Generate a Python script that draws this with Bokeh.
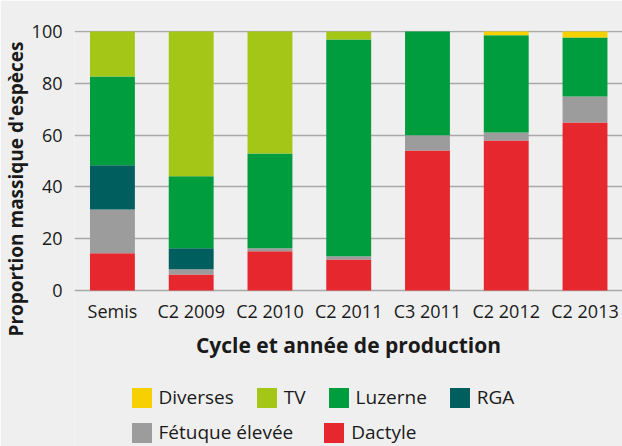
from bokeh.plotting import figure
from bokeh.models import Range1d, FixedTicker, Legend, LegendItem, Title, ColumnDataSource
from bokeh.embed import file_html
from bokeh.resources import INLINE

categories = ["Semis", "C2 2009", "C2 2010", "C2 2011", "C3 2011", "C2 2012", "C2 2013"]
dactyle = [14.4, 6.2, 15.2, 12.0, 54.1, 57.9, 64.9]
fetuque = [16.9, 2.0, 1.1, 1.2, 5.8, 3.1, 10.0]
rga = [17.1, 8.1, 0.0, 0.0, 0.0, 0.0, 0.0]
luzerne = [34.2, 27.8, 36.6, 83.7, 40.1, 37.6, 22.8]
tv = [17.4, 55.9, 47.1, 3.1, 0.0, 0.0, 0.0]
diverses = [0.0, 0.0, 0.0, 0.0, 0.0, 1.4, 2.3]
y_ticks = [0, 20, 40, 60, 80, 100]

keys = ["dactyle", "fetuque", "rga", "luzerne", "tv", "diverses"]
labels = ["Dactyle", "Fétuque élevée", "RGA", "Luzerne", "TV", "Diverses"]
colors = ["#E6282E", "#9D9C9C", "#005F5E", "#009D3F", "#A4C617", "#F7D000"]

FONT = "Open Sans"
TXT = "#1A1A1A"
BG = "#EFEFEF"

xs = list(range(len(categories)))
src = ColumnDataSource(dict(x=xs, dactyle=dactyle, fetuque=fetuque, rga=rga,
                            luzerne=luzerne, tv=tv, diverses=diverses))

p = figure(width=622, height=446, x_range=Range1d(-0.4816, 6.476), y_range=Range1d(-60.23, 100.386),
           output_backend="svg", toolbar_location=None,
           min_border_left=73, min_border_right=0, min_border_top=30, min_border_bottom=0)
p.background_fill_color = BG
p.border_fill_color = BG
p.outline_line_color = None

rs = p.vbar_stack(keys, x="x", width=0.57, source=src, fill_color=colors, line_color=None)
rmap = dict(zip(labels, rs))

# y axis
p.yaxis.ticker = FixedTicker(ticks=y_ticks)
p.yaxis.axis_line_color = None
p.yaxis.major_tick_line_color = None
p.yaxis.minor_tick_line_color = None
p.yaxis.major_label_text_font = FONT
p.yaxis.major_label_text_font_size = "18px"
p.yaxis.major_label_text_color = TXT
p.yaxis.major_label_standoff = 6

# x axis placed at y = 0 inside the frame
p.xaxis.fixed_location = 0
p.xaxis.ticker = FixedTicker(ticks=xs)
p.xaxis.major_label_overrides = {i: c for i, c in enumerate(categories)}
p.xaxis.axis_line_color = None
p.xaxis.major_tick_line_color = None
p.xaxis.minor_tick_line_color = None
p.xaxis.major_label_text_font = FONT
p.xaxis.major_label_text_font_size = "18px"
p.xaxis.major_label_text_color = TXT
p.xaxis.major_label_standoff = 2
p.xaxis.axis_label = "Cycle et année de production"
p.xaxis.axis_label_text_font = FONT
p.xaxis.axis_label_text_font_size = "21px"
p.xaxis.axis_label_text_font_style = "bold"
p.xaxis.axis_label_text_color = TXT
p.xaxis.axis_label_standoff = 5

p.xgrid.visible = False
p.ygrid.ticker = FixedTicker(ticks=y_ticks)
p.ygrid.grid_line_color = "#A8A8A8"
p.ygrid.grid_line_width = 1.6

ytitle = Title(text="Proportion massique d'espèces", align="left", text_font=FONT,
               text_font_size="19px", text_font_style="bold", text_color=TXT,
               standoff=0, offset=110)
p.add_layout(ytitle, "left")

def make_legend(names, loc, spacing):
    lg = Legend(items=[LegendItem(label=n, renderers=[rmap[n]]) for n in names],
                orientation="horizontal", location=loc, glyph_width=25, glyph_height=25,
                label_standoff=5, spacing=spacing, padding=0, margin=0,
                border_line_color=None, background_fill_alpha=0,
                label_text_font=FONT, label_text_font_size="19px", label_text_color=TXT)
    return lg

leg1 = make_legend(["Diverses", "TV", "Luzerne", "RGA"], (54.5, 36), 20)
leg2 = make_legend(["Fétuque élevée", "Dactyle"], (54.5, 1), 28)
p.add_layout(leg1)
p.add_layout(leg2)

open("out.html", "w").write(file_html(p, INLINE))
